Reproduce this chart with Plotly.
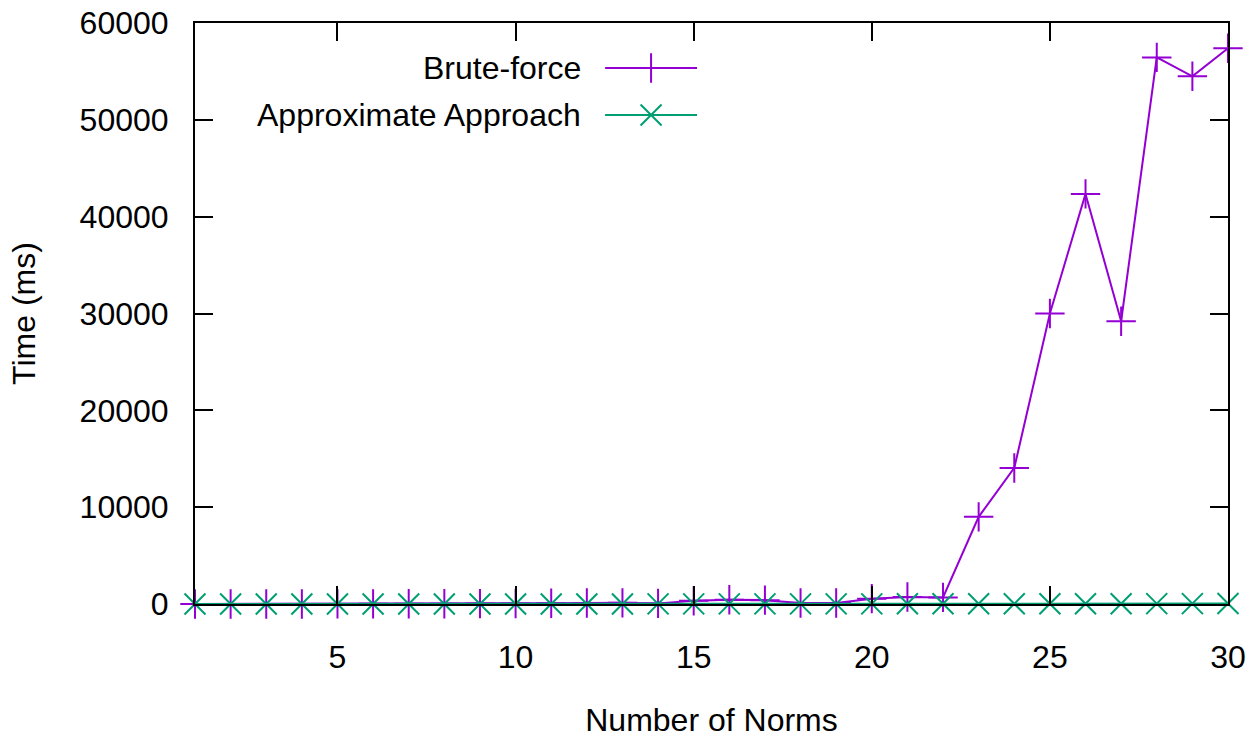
import plotly.graph_objects as go

# ---- data ----
norms = list(range(1, 31))
brute_force_ms = [1, 2, 4, 6, 10, 15, 20, 30, 40, 50, 80, 100, 120, 60,
                  340, 440, 400, 100, 100, 550, 720, 680,
                  9000, 14050, 30000, 42350, 29200, 56450, 54500, 57400]
approx_ms = [1, 1, 1, 2, 2, 3, 3, 4, 5, 5, 6, 7, 8, 9, 10,
             11, 12, 13, 15, 16, 18, 20, 22, 25, 27, 30, 33, 36, 40, 44]
series_names = ["Brute-force", "Approximate Approach"]
x_ticks = [5, 10, 15, 20, 25, 30]
y_ticks = [0, 10000, 20000, 30000, 40000, 50000, 60000]

PURPLE = "#9400D3"
GREEN = "#009E73"
FONT = dict(family="Liberation Sans, Arial, sans-serif", size=32, color="black")

fig = go.Figure()
fig.add_trace(go.Scatter(
    x=norms, y=brute_force_ms, mode="lines+markers", name=series_names[0],
    line=dict(color=PURPLE, width=2),
    marker=dict(symbol="cross-thin", size=21, line=dict(color=PURPLE, width=2)),
    cliponaxis=False, showlegend=False))
fig.add_trace(go.Scatter(
    x=norms, y=approx_ms, mode="lines+markers", name=series_names[1],
    line=dict(color=GREEN, width=2),
    marker=dict(symbol="x-thin", size=21, line=dict(color=GREEN, width=2)),
    cliponaxis=False, showlegend=False))

# ---- gnuplot-style legend (text right, sample on the right) ----
leg_y = [0.9225, 0.8417]
leg_colors = [PURPLE, GREEN]
leg_symbols = ["cross-thin", "x-thin"]
for name, yy, col, sym in zip(series_names, leg_y, leg_colors, leg_symbols):
    fig.add_trace(go.Scatter(
        x=[0.397, 0.486], y=[yy, yy], xaxis="x2", yaxis="y2", mode="lines",
        line=dict(color=col, width=2), showlegend=False, hoverinfo="skip"))
    fig.add_trace(go.Scatter(
        x=[0.4415], y=[yy], xaxis="x2", yaxis="y2", mode="markers",
        marker=dict(symbol=sym, size=21, line=dict(color=col, width=2)),
        showlegend=False, hoverinfo="skip", cliponaxis=False))
    fig.add_annotation(x=0.3756, y=yy, xref="paper", yref="paper",
                       text=name, showarrow=False, xanchor="right",
                       yanchor="middle", font=FONT)

axis_common = dict(
    showline=True, linecolor="black", linewidth=2, mirror="ticks",
    ticks="inside", ticklen=18, tickwidth=1.5, tickcolor="black",
    showgrid=False, zeroline=False, layer="above traces",
    tickfont=FONT, automargin=False,
)

fig.update_layout(
    width=1252, height=738,
    margin=dict(l=195, r=24, t=23, b=134),
    paper_bgcolor="white", plot_bgcolor="white",
    font=FONT,
    xaxis=dict(range=[1, 30], tickvals=x_ticks, ticklabelstandoff=24,
               title=dict(text="Number of Norms", font=FONT, standoff=40),
               **axis_common),
    yaxis=dict(range=[0, 60000], tickvals=y_ticks, tickformat="d",
               ticklabelstandoff=18,
               title=dict(text="Time (ms)", font=FONT, standoff=34),
               **axis_common),
    xaxis2=dict(range=[0, 1], overlaying="x", visible=False),
    yaxis2=dict(range=[0, 1], overlaying="y", visible=False),
)

fig.write_html("out.html")
